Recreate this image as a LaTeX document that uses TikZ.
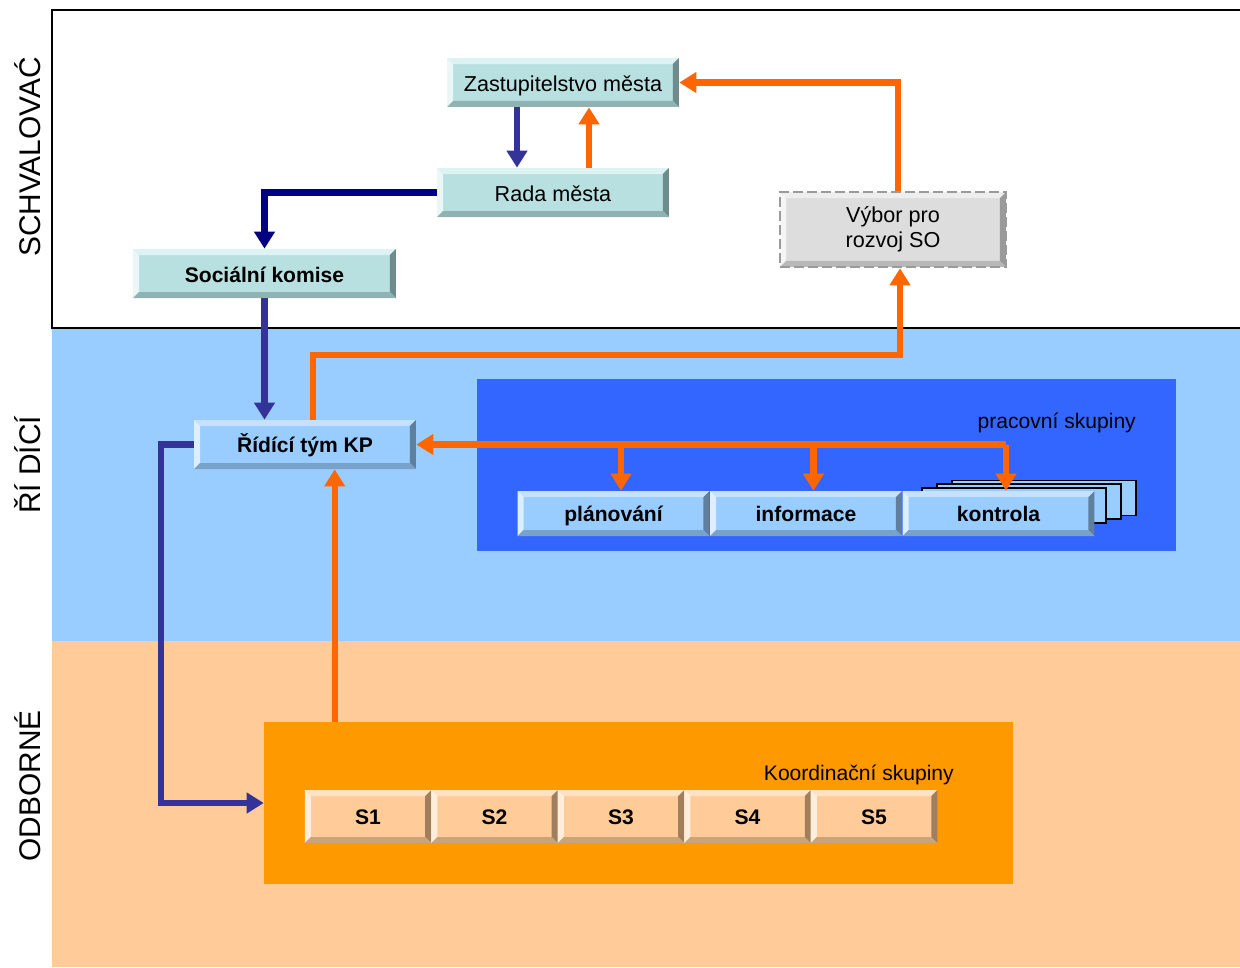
\documentclass[tikz,border=0pt]{standalone}
\usepackage{fontspec}
\setmainfont{Liberation Sans}
\usepackage{tikz}
\usetikzlibrary{arrows.meta}

\definecolor{tealbox}{HTML}{B8E0E0}
\definecolor{teallight}{HTML}{DDF2F2}
\definecolor{tealdark}{HTML}{6F8C8C}
\definecolor{skyband}{HTML}{99CCFF}
\definecolor{skylight}{HTML}{C4E2FF}
\definecolor{skydark}{HTML}{5F7F9F}
\definecolor{peachband}{HTML}{FFCC99}
\definecolor{peachlight}{HTML}{FFE2C4}
\definecolor{peachdark}{HTML}{A07F5F}
\definecolor{greybox}{HTML}{DDDDDD}
\definecolor{greylight}{HTML}{EEEEEE}
\definecolor{greydark}{HTML}{9A9A9A}
\definecolor{workblue}{HTML}{3366FF}
\definecolor{coordorange}{HTML}{FF9900}
\definecolor{arrorange}{HTML}{FF6600}
\definecolor{arrblue}{HTML}{333399}
\definecolor{arrnavy}{HTML}{000080}

\newcommand\bev{0.12cm}

\begin{document}
\begin{tikzpicture}[x=0.02cm,y=-0.02cm,
        bevel/.style n args={3}{fill=#1, inner sep=0pt, text height=0.97em, text depth=0.05em, path picture={
            \path (path picture bounding box.north west) coordinate (p1)
                  (path picture bounding box.north east) coordinate (p2)
                  (path picture bounding box.south east) coordinate (p3)
                  (path picture bounding box.south west) coordinate (p4);
            \fill[#2] (p1) -- (p2) -- ([shift={(-\bev,-\bev)}]p2) -- ([shift={(\bev,-\bev)}]p1) -- cycle;
            \fill[#2!60!white] (p1) -- (p4) -- ([shift={(\bev,\bev)}]p4) -- ([shift={(\bev,-\bev)}]p1) -- cycle;
            \fill[#3] (p2) -- (p3) -- ([shift={(-\bev,\bev)}]p3) -- ([shift={(-\bev,-\bev)}]p2) -- cycle;
            \fill[#3!55!#1] (p4) -- (p3) -- ([shift={(-\bev,\bev)}]p3) -- ([shift={(\bev,\bev)}]p4) -- cycle;
        }},
        council/.style={bevel={tealbox}{teallight}{tealdark}, text height=1.1em, minimum width=4.64cm, minimum height=0.98cm, font=\fontsize{12.3}{14}\selectfont},
        team/.style={bevel={skyband}{skylight}{skydark}, minimum width=3.84cm, minimum height=0.9cm, font=\fontsize{12}{14}\selectfont\bfseries},
        sgroup/.style={bevel={peachband}{peachlight}{peachdark}, minimum width=2.53cm, minimum height=1.06cm, font=\fontsize{12}{14}\selectfont\bfseries},
        sidelabel/.style={rotate=90, font=\fontsize{17}{20}\selectfont},
        flow/.style={line width=3.6pt, -{Triangle[width=0.4cm,length=0.34cm]}},
    ]
    \useasboundingbox (0,0) rectangle (1240,967);
    % three bands
    \fill[white] (52,10) rectangle (1240,328);
    \fill[skyband] (52,328) rectangle (1240,641);
    \fill[peachband] (52,641) rectangle (1240,967);
    \draw[line width=1.1pt] (1240,10) -| (52,328) -- (1240,328);

    \node[sidelabel] (lschval) at (28,157) {SCHVALOVAĆ};
    \node[sidelabel] (lridici) at (28,465) {ŘÍ DÍCÍ};
    \node[sidelabel] (lodbor) at (28,786) {ODBORNÉ};

    % approving level
    \node[council] (zast) at (563,82.5) {Zastupitelstvo města};
    \node[council] (rada) at (553,192.5) {Rada města};
    \node[council, minimum width=5.26cm, font=\fontsize{12}{14}\selectfont\bfseries] (soc) at (264.5,273.5) {Sociální komise};
    \node[bevel={greybox}{greylight}{greydark}, draw=greydark, dash pattern=on 0.2cm off 0.08cm, line width=1.5pt,
          minimum width=4.52cm, minimum height=1.5cm, align=center, text height=, text depth=,
          font=\fontsize{12.3}{14}\selectfont] (vybor) at (893,229.5) {Výbor pro\\rozvoj SO};

    % managing level
    \node[team, minimum width=4.44cm, minimum height=0.98cm] (ridici) at (305,444.5) {Řídící tým KP};
    \node[fill=workblue, minimum width=13.98cm, minimum height=3.44cm] (prac) at (826.5,465) {};
    \node[anchor=east, font=\fontsize{12}{14}\selectfont] (praclabel) at (1142,423) {pracovní skupiny};
    \foreach \dx in {30,15,0}
        \draw[fill=skyband, line width=1pt] (922+\dx,488-\dx/4) rectangle (1106+\dx,523-\dx/4);
    \node[team] (plan) at (613.5,513.5) {plánování};
    \node[team] (info) at (806,513.5) {informace};
    \node[team] (kontr) at (998.5,513.5) {kontrola};

    % expert level
    \node[fill=coordorange, minimum width=14.98cm, minimum height=3.24cm] (koord) at (638.5,803) {};
    \node[anchor=east, font=\fontsize{12}{14}\selectfont] (koordlabel) at (960,775) {Koordinační skupiny};
    \foreach \i/\x in {1/368,2/494.5,3/621,4/747.5,5/874}
        \node[sgroup] (s\i) at (\x,816.5) {S\i};

    % connectors
    \draw[flow, arrblue] ([xshift=-0.92cm]zast.south) -- ([xshift=-0.92cm]zast.south |- rada.north);
    \draw[flow, arrorange] ([xshift=0.72cm]rada.north) -- ([xshift=0.72cm]rada.north |- zast.south);
    \draw[flow, arrnavy] (rada.west) -| (soc.north);
    \draw[flow, arrblue] (soc.south) -- (soc.south |- ridici.north);
    \coordinate (bend) at (600,355);
    \draw[flow, arrorange] ([xshift=0.16cm]ridici.north) |- (bend) -| ([xshift=0.14cm]vybor.south);
    \draw[flow, arrorange] ([xshift=0.1cm]vybor.north) |- (zast.east);
    \draw[flow, arrorange] ([xshift=1.42cm]koord.north west) -- ([xshift=1.42cm]koord.north west |- ridici.south);
    \draw[flow, arrblue] (ridici.west) -- ++(-0.66cm,0) |- (koord.west);
    \draw[flow, arrorange] ([xshift=0.15cm]kontr.north |- ridici.east) -- (ridici.east);
    \foreach \n in {plan,info,kontr}
        \draw[flow, arrorange] ([xshift=0.15cm]\n.north |- ridici.east) -- ([xshift=0.15cm]\n.north);
\end{tikzpicture}
\end{document}
